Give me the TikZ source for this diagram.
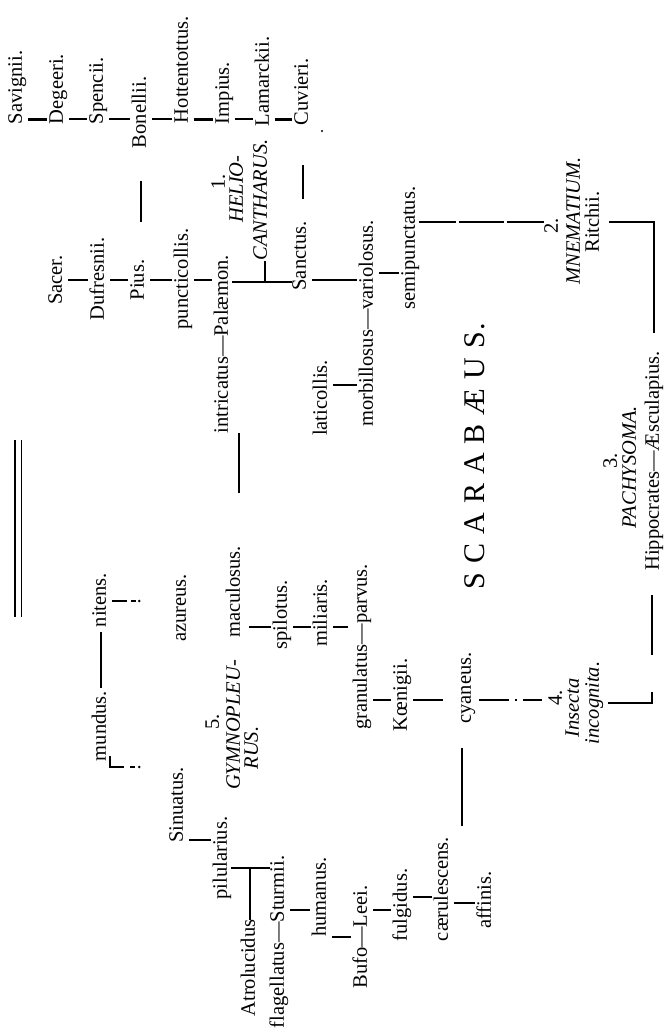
\documentclass[tikz,border=0pt]{standalone}
\usepackage{fontspec}
\setmainfont{Liberation Serif}
\newcommand\lblfont{\fontsize{20.5}{24}\selectfont}
\newcommand\bigfont{\fontsize{30}{34}\selectfont}
\begin{document}
\begin{tikzpicture}[x=1pt,y=-1pt,
  lb/.style={rotate=90, inner sep=0pt, outer sep=0pt, text height=14pt, text depth=4.5pt, font=\lblfont},
  gn/.style={lb, font=\lblfont\itshape},
  rb/.style={line width=2pt, shorten <=2pt, shorten >=2pt},
  tb/.style={rb, line width=3pt},
  dl/.style={line width=2pt},
  ln/.style={line width=1.6pt}]
\path[use as bounding box, fill=white] (0,0) rectangle (665,1036);
% level coordinates
\foreach \v in {119,222,273,280,282,385,601,627,700,703,767,840,868,897,903,910,937}
  {\coordinate (L\v) at (0,\v);}
% ---------- HELIOCANTHARUS ----------
\node[lb,anchor=west] (sav) at (17,124) {Savignii.};
\node[lb,anchor=west] (deg) at (58,124) {Degeeri.};
\node[lb,anchor=west] (spe) at (98,124) {Spencii.};
\node[lb,anchor=west] (bon) at (141,148) {Bonellii.};
\node[lb,anchor=west] (hot) at (183,123) {Hottentottus.};
\node[lb,anchor=west] (imp) at (224,124) {Impius.};
\node[lb,anchor=west] (lam) at (264,126) {Lamarckii.};
\node[lb,anchor=west] (cuv) at (303,125) {Cuvieri.};
\node[lb] (n1) at (220,182) {1.};
\node[gn] (helio) at (238,189) {HELIO-};
\node[gn] (canth) at (262,200) {CANTHARUS.};
\node[lb] (sac) at (57,280) {Sacer.};
\node[lb] (duf) at (99,279) {Dufresnii.};
\node[lb] (pius) at (139,280) {Pius.};
\node[lb] (pun) at (183,279) {puncticollis.};
\node[lb,anchor=east] (intr) at (223,255) {intricatus—Palæmon.};
\node[lb] (sanc) at (301,256) {Sanctus.};
\node[lb] (lati) at (322,398) {laticollis.};
\node[lb,anchor=east] (morb) at (368,220) {morbillosus—variolosus.};
\node[lb] (semi) at (410,248) {semipunctatus.};
\fill (322,131) circle (1.2pt);
\draw[tb] (sav.south |- L119) -- (deg.north |- L119);
\draw[rb] (deg.south |- L119) -- (spe.north |- L119);
\draw[rb] (spe.south |- L119) -- (bon.north |- L119);
\draw[rb] (bon.south |- L119) -- (hot.north |- L119);
\draw[tb] (hot.south |- L119) -- (imp.north |- L119);
\draw[rb] (imp.south |- L119) -- (lam.north |- L119);
\draw[tb] (lam.south |- L119) -- (cuv.north |- L119);
\draw[dl, line width=2.4pt, shorten <=38pt, shorten >=33pt] (pius.east -| bon.center) -- (bon.west);
\draw[rb] (sac.south |- L280) -- (duf.north |- L280);
\draw[rb] (duf.south |- L280) -- (pius.north |- L280);
\draw[rb] (pius.south |- L280) -- (pun.north |- L280);
\draw[rb] (pun.south |- L280) -- (intr.north |- L280);
\draw[ln] (intr.south |- L282) -- (sanc.north |- L282);
\coordinate (hc) at (265,282);
\draw[ln] (hc) -- (canth.west -| hc);
\draw[dl, shorten <=23pt, shorten >=40pt] (sanc.east -| cuv.center) -- (cuv.west);
\coordinate (ie) at (239,493);
\draw[dl, line width=2.4pt] (intr.west -| ie) -- (ie);
\draw[rb] (sanc.south |- L280) -- (morb.north |- L280);
\draw[rb] (lati.south |- L385) -- (morb.north |- L385);
\draw[rb] (morb.south |- L273) -- (semi.north |- L273);
% ---------- MNEMATIUM ----------
\node[lb] (n2) at (553,226) {2.};
\node[gn] (mnem) at (575,221) {MNEMATIUM.};
\node[lb] (ritc) at (594,222) {Ritchii.};
\draw[ln, dash pattern=on 37pt off 3pt on 45pt off 3pt on 60pt] (semi.south |- L222) -- (n2.north |- L222);
\coordinate (rc1) at (654,222);
\coordinate (rc2) at (654,333);
\draw[ln, shorten <=6pt] (ritc.south |- L222) -- (rc1) -- (rc2);
% ---------- SCARABAEUS ----------
\node[rotate=90, inner sep=0pt, font=\bigfont] (scar) at (475,456)
  {S\kern9pt C\kern9pt A\kern9pt R\kern9pt A\kern9pt B\kern9pt Æ\kern9pt U\kern9pt S\kern2pt.};
% ---------- PACHYSOMA ----------
\node[lb] (n3) at (612,461) {3.};
\node[gn] (pach) at (631,467) {PACHYSOMA.};
\node[lb] (hipp) at (654,461) {Hippocrates—Æsculapius.};
\coordinate (pc1) at (652,595);
\coordinate (pc2) at (652,655);
\coordinate (pc3) at (652,692);
\coordinate (pc4) at (652,703);
\draw[ln] (pc1) -- (pc2);
% ---------- INSECTA INCOGNITA ----------
\node[lb] (n4) at (557,698) {4.};
\node[gn] (insec) at (574,708) {Insecta};
\node[gn] (incog) at (594,703) {incognita.};
\draw[ln, shorten <=5pt] (incog.south |- L703) -- (pc4) -- (pc3);
% ---------- GYMNOPLEURUS ----------
\node[lb] (cyan) at (466,688) {cyaneus.};
\node[lb] (koen) at (402,695) {Kœnigii.};
\node[lb] (gran) at (362,647) {granulatus—parvus.};
\node[lb] (mili) at (322,613) {miliaris.};
\node[lb] (spil) at (282,615) {spilotus.};
\node[lb] (macu) at (235,592) {maculosus.};
\node[lb] (n5) at (214,722) {5.};
\node[gn] (gymn) at (235,725) {GYMNOPLEU-};
\node[gn] (rus) at (253,748) {RUS.};
\node[lb] (azur) at (181,608) {azureus.};
\node[lb] (nit) at (101,600) {nitens.};
\node[lb] (mund) at (101,726) {mundus.};
\node[lb] (sinu) at (178,805) {Sinuatus.};
\node[lb] (pilu) at (222,858) {pilularius.};
\node[lb] (atro) at (250,968) {Atrolucidus};
\node[lb] (flag) at (279,942) {flagellatus—Sturmii.};
\node[lb] (huma) at (321,897) {humanus.};
\node[lb] (bufo) at (362,937) {Bufo—Leei.};
\node[lb] (fulg) at (402,905) {fulgidus.};
\node[lb] (caer) at (443,889) {cærulescens.};
\node[lb] (affi) at (486,900) {affinis.};
\draw[ln, shorten <=4pt, shorten >=6pt, dash pattern=on 30pt off 6pt on 2pt off 6pt on 40pt] (cyan.south |- L700) -- (n4.north |- L700);
\draw[rb] (gran.south |- L700) -- (koen.north |- L700);
\draw[rb, shorten >=14pt] (koen.south |- L700) -- (cyan.north |- L700);
\coordinate (cy2) at (462,826);
\draw[dl, shorten <=24pt] (cyan.west -| cy2) -- (cy2);
\draw[rb, shorten <=5pt] (macu.south |- L627) -- (spil.north |- L627);
\draw[rb] (spil.south |- L627) -- (mili.north |- L627);
\draw[rb, shorten >=5pt] (mili.south |- L627) -- (gran.north |- L627);
\draw[dl, shorten <=3pt, shorten >=5pt] (mund.east) -- (nit.west);
\draw[rb, shorten <=0pt, shorten >=0pt] (nit.south |- L601) ++(2,0) -- ++(15,0);
\draw[line width=2pt] (nit.south |- L601) ++(21,0) -- ++(5,0);
\fill (nit.south |- L601) ++(29,0) circle (1.3pt);
\draw[rb, shorten <=0pt, shorten >=0pt] (mund.south |- L767) ++(0,-11) -- ++(0,11) -- ++(14,0);
\draw[line width=2pt] (mund.south |- L767) ++(20,0) -- ++(5,0);
\fill (mund.south |- L767) ++(29,0) circle (1.3pt);
\draw[rb] (sinu.south |- L840) -- (pilu.north |- L840);
\draw[rb, shorten <=0pt, shorten >=0pt] (pilu.south |- L868) -- (flag.north |- L868);
\draw[dl] (atro.east) -- (atro.east |- L868);
\draw[rb] (flag.south |- L910) -- (huma.north |- L910);
\draw[rb] (huma.south |- L937) -- (bufo.north |- L937);
\draw[rb] (bufo.south |- L910) -- (fulg.north |- L910);
\draw[rb] (fulg.south |- L897) -- (caer.north |- L897);
\draw[rb] (caer.south |- L903) -- (affi.north |- L903);
% ---------- double rule ----------
\draw[line width=2.6pt] (15,440) -- (15,617);
\draw[line width=1pt] (21,440) -- (21,617);
\end{tikzpicture}
\end{document}
